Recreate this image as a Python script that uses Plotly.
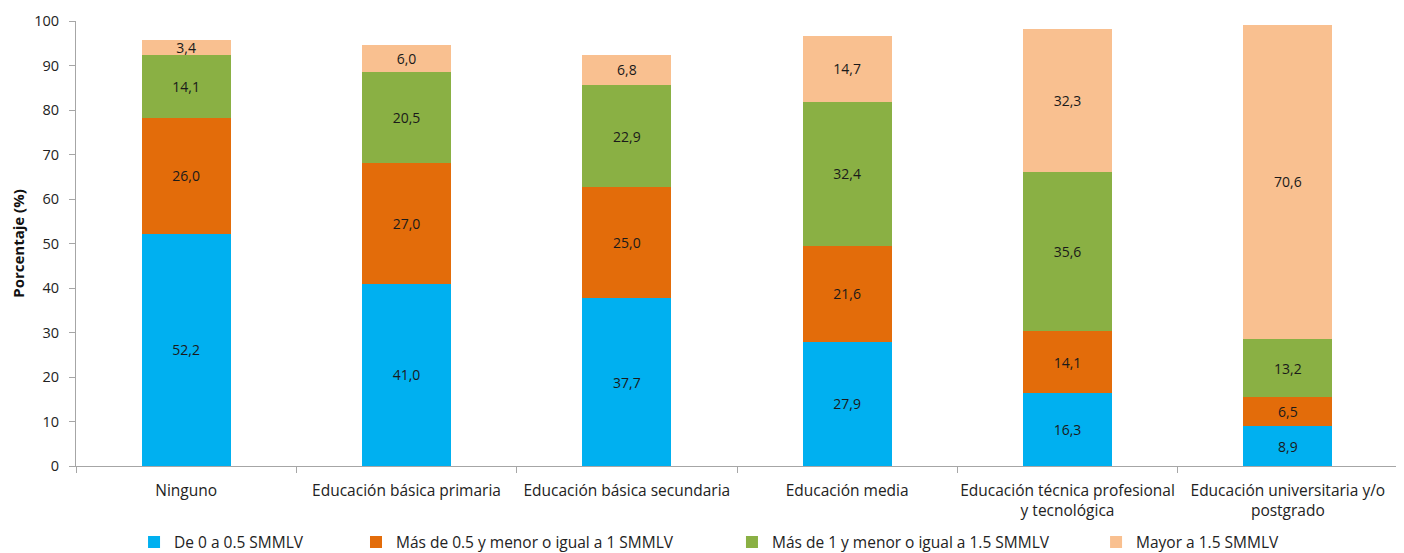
import plotly.graph_objects as go

categories = [
    "Ninguno",
    "Educación básica primaria",
    "Educación básica secundaria",
    "Educación media",
    "Educación técnica profesional<br>y tecnológica",
    "Educación universitaria y/o<br>postgrado",
]
series_names = [
    "De 0 a 0.5 SMMLV",
    "Más de 0.5 y menor o igual a 1 SMMLV",
    "Más de 1 y menor o igual a 1.5 SMMLV",
    "Mayor a 1.5 SMMLV",
]
s1 = [52.2, 41.0, 37.7, 27.9, 16.3, 8.9]
s2 = [26.0, 27.0, 25.0, 21.6, 14.1, 6.5]
s3 = [14.1, 20.5, 22.9, 32.4, 35.6, 13.2]
s4 = [3.4, 6.0, 6.8, 14.7, 32.3, 70.6]
y_ticks = [0, 10, 20, 30, 40, 50, 60, 70, 80, 90, 100]

colors = ["#00B0F0", "#E36C0A", "#8AB044", "#F9C090"]
legend_ids = ["legend", "legend2", "legend3", "legend4"]
legend_x = [0.0439, 0.2118, 0.4962, 0.7716]

FONT = "Open Sans, Noto Sans, sans-serif"

fig = go.Figure()
for name, vals, col, lg in zip(series_names, [s1, s2, s3, s4], colors, legend_ids):
    fig.add_trace(go.Bar(
        x=categories, y=vals, name=name,
        marker=dict(color=col, line=dict(width=0)),
        texttemplate="%{y:.1f}", textposition="inside",
        insidetextanchor="middle",
        textfont=dict(color="#1a1a1a", size=14, family=FONT),
        legend=lg,
        hoverinfo="skip",
    ))

layout_legends = {}
for lg, lx in zip(legend_ids, legend_x):
    layout_legends[lg] = dict(
        x=lx, y=-0.172, xanchor="left", yanchor="middle", orientation="h",
        font=dict(size=15.5, family=FONT, color="#222"),
        bgcolor="rgba(0,0,0,0)", itemclick=False, itemdoubleclick=False,
    )

fig.update_layout(
    barmode="stack",
    bargap=0.595,
    width=1404, height=553,
    margin=dict(l=68, r=14, t=13, b=95, autoexpand=False),
    paper_bgcolor="white", plot_bgcolor="white",
    separators=",.",
    font=dict(family=FONT, size=15, color="#222"),
    uniformtext=dict(mode="show", minsize=8),
    showlegend=True,
    **layout_legends,
)
fig.update_xaxes(
    showline=True, linecolor="#A6A6A6", linewidth=1,
    ticks="outside", tickson="boundaries", ticklen=6, tickcolor="#A6A6A6",
    tickfont=dict(size=15.5, family=FONT, color="#222"),
    tickangle=0,
    ticklabelstandoff=10,
    showgrid=False, automargin=False,
)
fig.update_yaxes(
    range=[0, 100], tickvals=y_ticks,
    showline=True, linecolor="#A6A6A6", linewidth=1,
    ticks="outside", ticklen=6, tickcolor="#A6A6A6",
    tickfont=dict(size=14.5, family=FONT, color="#222"),
    ticklabelstandoff=7,
    showgrid=False, zeroline=False, automargin=False,
    title=dict(text="<b>Porcentaje (%)</b>", font=dict(size=15, family=FONT, color="#111"), standoff=7),
)

fig.write_html("out.html")
